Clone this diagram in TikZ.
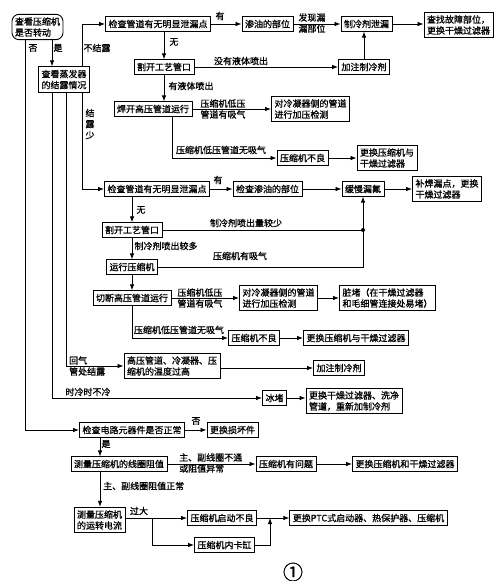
\documentclass[tikz,border=0pt]{standalone}
\usepackage{fontspec}
\setmainfont{Noto Sans CJK SC}[FakeBold=1]
\usetikzlibrary{arrows.meta}

\begin{document}
\begin{tikzpicture}[x=1pt,y=-1pt,
                    every node/.style={font=\fontsize{9}{11}\selectfont},
                    box/.style={draw,line width=0.9pt,inner xsep=3pt,inner ysep=3pt,align=left},
                    lbl/.style={inner sep=1pt,align=left},
                    arr/.style={line width=0.8pt,-{Latex[length=6pt,width=4.5pt]}},
                    ln/.style={line width=0.8pt}]
\useasboundingbox (0,0) rectangle (500,581);
\coordinate (xa) at (25,0);
\coordinate (xb) at (52,0);
\coordinate (xc) at (66,0);
\coordinate (xd) at (82,0);
\coordinate (xe) at (172,0);
\coordinate (xf) at (100,0);

\node[box,rounded corners=7pt] (start) at (37.5,27) {查看压缩机\\是否转动};
\node[box] (evap) at (64,79.5) {查看蒸发器\\的结露情况};

\node[box] (chkA) at (158,24) {检查管道有无明显泄漏点};
\node[box] (oilA) at (267.5,24) {渗油的部位};
\node[box] (leakA) at (366.5,24) {制冷剂泄漏};
\node[box] (findA) at (458.5,25) {查找故障部位，\\更换干燥过滤器};
\node[box] (cutA) at (164,67) {割开工艺管口};
\node[box] (addA) at (364,67) {加注制冷剂};
\node[box] (weldA) at (153,109) {焊开高压管道运行};
\node[box] (testA) at (310.5,109) {对冷凝器侧的管道\\进行加压检测};
\node[box] (badA) at (302.5,158) {压缩机不良};
\node[box] (replA) at (387,158) {更换压缩机与\\干燥过滤器};

\node[box] (chkB) at (157,189) {检查管道有无明显泄漏点};
\node[box] (oilB) at (267.5,189) {检查渗油的部位};
\node[box] (slowB) at (363,189) {缓慢漏氟};
\node[box] (fixB) at (447,189) {补焊漏点，更换\\干燥过滤器};
\node[box] (cutB) at (132,230) {割开工艺管口};
\coordinate (dot) at (363,230);
\node[box] (runB) at (132,267) {运行压缩机};
\node[box] (cutoffB) at (132,298) {切断高压管道运行};
\node[box] (testB) at (278.5,298) {对冷凝器侧的管道\\进行加压检测};
\node[box] (dirtyB) at (387.5,298) {脏堵（在干燥过滤器\\和毛细管连接处易堵）};
\node[box] (badB) at (254,338) {压缩机不良};
\node[box] (replB) at (356,338) {更换压缩机与干燥过滤器};
\node[box] (hotC) at (172,366) {高压管道、冷凝器、压\\缩机的温度过高};
\node[box] (addC) at (339,368) {加注制冷剂};
\node[box] (iceD) at (274.5,398) {冰堵};
\node[box] (washD) at (354,401) {更换干燥过滤器、洗净\\管道，重新加制冷剂};

\node[box] (circE) at (132,430) {检查电路元器件是否正常};
\node[box] (brokenE) at (232.5,430) {更换损坏件};
\node[box] (coilE) at (119,464) {测量压缩机的线圈阻值};
\node[box] (probE) at (286,464) {压缩机有问题};
\node[box] (replE) at (405,464) {更换压缩机和干燥过滤器};
\node[box] (currE) at (99.5,520) {测量压缩机\\的运转电流};
\node[box] (startF) at (222,518) {压缩机启动不良};
\node[box] (jamF) at (224.5,545) {压缩机内卡缸};
\node[box] (ptcF) at (368.5,518) {更换PTC式启动器、热保护器、压缩机};
\coordinate (br) at (152,518);
\coordinate (jn) at (270,518);

\node[lbl] at (33,48) {否};
\node[lbl] at (58,48) {是};
\node[lbl] at (97,48) {不结露};
\node[lbl,align=center] at (90,124) {结\\露\\少};
\node[lbl] at (220,16) {有};
\node[lbl] at (312,23) {发现漏\\漏部位};
\node[lbl] at (174,42) {无};
\node[lbl] at (241,61) {没有液体喷出};
\node[lbl] at (191,86) {有液体喷出};
\node[lbl] at (223,109) {压缩机低压\\管道有吸气};
\node[lbl] at (221,150) {压缩机低压管道无吸气};
\node[lbl] at (218,180) {有};
\node[lbl] at (141,210) {无};
\node[lbl] at (246,223) {制冷剂喷出量较少};
\node[lbl] at (166,246) {制冷剂喷出较多};
\node[lbl] at (240,256) {压缩机有吸气};
\node[lbl] at (200,298) {压缩机低压\\管道有吸气};
\node[lbl] at (179,330) {压缩机低压管道无吸气};
\node[lbl,anchor=west] at (68,366) {回气\\管处结露};
\node[lbl] at (88,392) {时冷时不冷};
\node[lbl] at (196,421) {否};
\node[lbl] at (106,444) {是};
\node[lbl,anchor=west] at (178,463) {主、副线圈不通\\或阻值异常};
\node[lbl,anchor=west] at (102,486) {主、副线圈阻值正常};
\node[lbl] at (139,511) {过大};
\node[lbl,font=\fontsize{20}{20}\selectfont] at (293,572) {①};

\draw[arr] (start.south -| xb) -- (evap.north -| xb);
\draw[arr] (start.south -| xa) |- (circE);
\draw[arr] (evap.north -| xd) |- (chkA);
\draw[arr] (evap.south -| xd) |- (chkB);
\draw[arr] (evap.south -| xc) |- (hotC);
\draw[arr] (evap.south -| xb) |- (iceD);

\draw[arr] (chkA) -- (oilA);
\draw[arr] (oilA) -- (leakA);
\draw[arr] (leakA) -- (leakA -| findA.west);
\draw[arr] (chkA.south -| cutA) -- (cutA);
\draw[arr] (cutA) -- (addA);
\draw[arr] (addA) -- (addA |- leakA.south);
\draw[arr] (cutA) -- (cutA |- weldA.north);
\draw[arr] (weldA) -- (testA);
\draw[arr] (weldA.south -| xe) |- (badA);
\draw[arr] (badA) -- (replA);

\draw[arr] (chkB) -- (oilB);
\draw[arr] (oilB) -- (slowB);
\draw[arr] (slowB) -- (fixB);
\draw[arr] (chkB.south -| cutB) -- (cutB);
\draw[ln] (cutB) -- (dot);
\fill (dot) circle (2pt);
\draw[arr] (cutB) -- (runB);
\draw[ln] (runB) -| (dot);
\draw[arr] (dot) -- (slowB);
\draw[arr] (runB) -- (cutoffB);
\draw[arr] (cutoffB) -- (testB);
\draw[arr] (testB) -- (dirtyB);
\draw[arr] (cutoffB) |- (badB);
\draw[arr] (badB) -- (replB);
\draw[arr] (hotC.east |- addC) -- (addC);
\draw[arr] (iceD) -- (iceD -| washD.west);

\draw[arr] (circE) -- (brokenE);
\draw[arr] (circE.south -| xf) -- (coilE.north -| xf);
\draw[arr] (coilE) -- (probE);
\draw[arr] (probE) -- (replE);
\draw[arr] (coilE.south -| xf) -- (currE.north -| xf);
\draw[arr] (currE.east |- startF) -- (startF);
\draw[arr] (br) |- (jamF);
\draw[arr] (startF) -- (ptcF);
\draw[arr] (jamF) -| (jn);
\end{tikzpicture}
\end{document}
